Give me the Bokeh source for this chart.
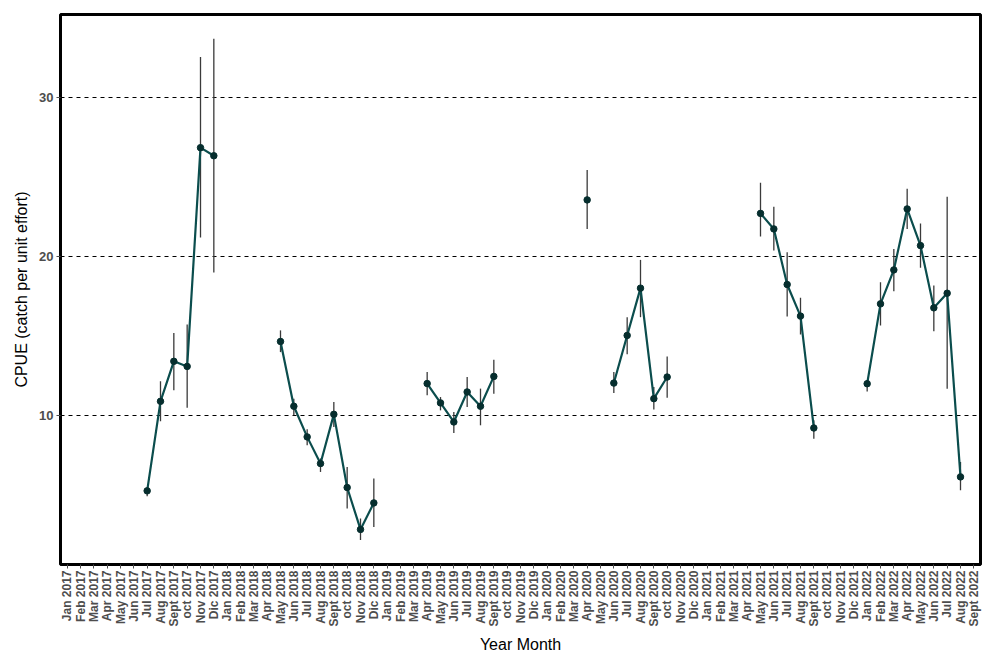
import math
from bokeh.plotting import figure
from bokeh.models import FixedTicker, ColumnDataSource
from bokeh.embed import file_html
from bokeh.resources import INLINE

# ---- data ----
month_names = ["Jan", "Feb", "Mar", "Apr", "May", "Jun", "Jul", "Aug", "Sept", "oct", "Nov", "Dic"]
years = [2017, 2018, 2019, 2020, 2021, 2022]
last_month_2022 = 9  # Sept 2022

obs_months = [
    "Jul 2017", "Aug 2017", "Sept 2017", "oct 2017", "Nov 2017", "Dic 2017",
    "May 2018", "Jun 2018", "Jul 2018", "Aug 2018", "Sept 2018", "oct 2018", "Nov 2018", "Dic 2018",
    "Apr 2019", "May 2019", "Jun 2019", "Jul 2019", "Aug 2019", "Sept 2019",
    "Apr 2020",
    "Jun 2020", "Jul 2020", "Aug 2020", "Sept 2020", "oct 2020",
    "May 2021", "Jun 2021", "Jul 2021", "Aug 2021", "Sept 2021",
    "Jan 2022", "Feb 2022", "Mar 2022", "Apr 2022", "May 2022", "Jun 2022", "Jul 2022", "Aug 2022",
]
cpue = [
    5.24, 10.88, 13.4, 13.08, 26.86, 26.35,
    14.65, 10.57, 8.64, 6.96, 10.06, 5.45, 2.81, 4.48,
    12.0, 10.78, 9.58, 11.47, 10.57, 12.45,
    23.57,
    12.03, 15.03, 18.01, 11.05, 12.41,
    22.72, 21.74, 18.24, 16.25, 9.2,
    11.99, 17.02, 19.16, 23.0, 20.69, 16.77, 17.69, 6.12,
]
upper = [
    5.4, 12.14, 15.18, 15.72, 32.58, 33.73,
    15.35, 11.05, 9.12, 7.28, 10.84, 6.75, 3.5, 6.02,
    12.72, 11.15, 10.21, 12.41, 11.68, 13.5,
    25.45,
    12.72, 16.18, 19.79, 11.78, 13.71,
    24.65, 23.14, 20.27, 17.4, 9.69,
    12.2, 18.38, 20.48, 24.28, 22.09, 18.18, 23.77, 7.06,
]
lower = [
    4.9, 9.62, 11.57, 10.48, 21.2, 19.0,
    13.98, 10.0, 8.11, 6.43, 9.26, 4.13, 2.14, 2.97,
    11.26, 10.31, 8.89, 10.52, 9.37, 11.36,
    21.74,
    11.4, 13.84, 16.18, 10.36, 11.11,
    21.26, 20.38, 16.23, 15.09, 8.53,
    11.5, 15.66, 17.82, 21.74, 19.29, 15.3, 11.68, 5.28,
]

# ---- categories ----
all_months = []
for y in years:
    for i, m in enumerate(month_names):
        if y == 2022 and i >= last_month_2022:
            break
        all_months.append(f"{m} {y}")

# full series with NaN gaps for the connecting line
lookup = dict(zip(obs_months, cpue))
full_y = [lookup.get(m, float("nan")) for m in all_months]

p = figure(
    x_range=all_months, y_range=(0.6, 35.25),
    width=985, height=655,
    output_backend="svg", toolbar_location=None,
    min_border_left=60, min_border_top=14, min_border_right=5, min_border_bottom=80,
)
p.background_fill_color = "white"
p.border_fill_color = "white"
p.outline_line_color = "black"
p.outline_line_width = 3

# grid
p.xgrid.grid_line_color = None
p.ygrid.grid_line_color = "black"
p.ygrid.grid_line_dash = "4 4"
p.ygrid.grid_line_width = 1
p.yaxis.ticker = FixedTicker(ticks=[10, 20, 30])

# axes styling
for ax in (p.xaxis[0], p.yaxis[0]):
    ax.axis_line_color = None
    ax.major_tick_line_color = "#4d4d4d"
    ax.major_tick_in = 0
    ax.major_tick_out = 4
    ax.minor_tick_line_color = None
    ax.major_label_text_font = "Liberation Sans"
    ax.major_label_text_font_style = "bold"
    ax.major_label_text_color = "#4d4d4d"
    ax.axis_label_text_font = "Liberation Sans"
    ax.axis_label_text_font_style = "normal"
    ax.axis_label_text_color = "black"
    ax.axis_label_text_font_size = "16px"

p.xaxis.major_label_orientation = math.pi / 2
p.xaxis.major_label_text_font_size = "12px"
p.xaxis.major_label_standoff = 2
p.xaxis.axis_label = "Year Month"
p.xaxis.axis_label_standoff = 6

p.yaxis.major_label_text_font_size = "13px"
p.yaxis.major_label_standoff = 3
p.yaxis.axis_label = "CPUE (catch per unit effort)"
p.yaxis.axis_label_standoff = 6

# error bars
src = ColumnDataSource(dict(x=obs_months, y=cpue, lo=lower, hi=upper))
p.segment(x0="x", y0="lo", x1="x", y1="hi", source=src, line_color="#3a3a3a", line_width=1.3)

# connecting line
p.line(x=all_months, y=full_y, line_color="#0b4d4d", line_width=2.2)

# points
p.scatter(x="x", y="y", source=src, size=6.5, fill_color="#062e2e", line_color="#062e2e")

open("out.html", "w").write(file_html(p, INLINE))
